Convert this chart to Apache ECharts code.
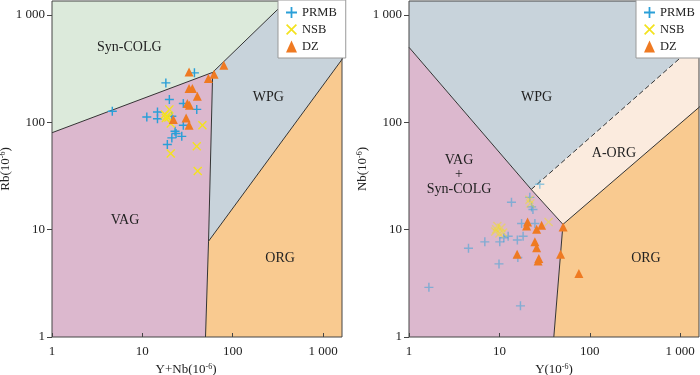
<!DOCTYPE html>
<html>
<head>
<meta charset="utf-8">
<script src="https://cdn.jsdelivr.net/npm/echarts@6/dist/echarts.min.js"></script>
<style>
  html, body { margin: 0; padding: 0; background: #fff; }
  #chart { width: 700px; height: 375px; }
</style>
</head>
<body>
<div id="chart"></div>
<script>
// left diagram: Rb vs Y+Nb
const prmbRb = [[4.65, 127], [18.2, 233], [37.7, 289], [19.9, 163], [28.4, 150], [40, 132], [11.2, 112],
  [14.7, 125], [14.7, 108], [21.2, 114], [28.4, 94], [23, 82.6], [23.6, 78.7], [27.3, 74], [21.2, 71.6], [18.9, 62.1]]
const nsbRb = [[18.6, 114], [17.8, 118], [19.4, 111], [18.2, 110], [19.9, 132], [20.6, 97.5], [46.2, 94],
  [40, 60], [20.6, 51.2], [41, 35.2]]
const dzRb = [[32.9, 295], [53.8, 256], [62.2, 281], [79.7, 341], [32.9, 207], [35.8, 207], [40.6, 175],
  [31.5, 150], [33.2, 144], [22, 106], [30.5, 110], [32.9, 94]]

// right diagram: Nb vs Y
const prmbNb = [[1.66, 2.9], [4.55, 6.7], [6.9, 7.7], [9.9, 4.8], [10.1, 7.7], [11.2, 8.4], [12.5, 8.7],
  [13.6, 18], [15.8, 8], [16, 5.5], [17.1, 1.95], [17.6, 11.4], [18.3, 8.7], [21.7, 20], [22.7, 16.3],
  [23.5, 15.4], [24.7, 11.4], [28, 26.5]]
const nsbNb = [[9, 9.6], [9.5, 10.8], [10, 9.2], [10.5, 10.4], [9.2, 10.1], [11, 9.4], [21.5, 19], [22, 17.5], [35, 11.8]]
const dzNb = [[20.5, 11.8], [20, 10.8], [25.8, 10.1], [29.3, 11], [50.7, 10.6], [24.7, 7.7], [25.8, 6.8],
  [15.7, 5.9], [47.5, 5.9], [27.3, 5.4], [26.8, 5.1], [75.7, 3.9]]

// field boundaries (data coords)
const rbSynColg = [[1, 80], [60, 292], [636, 2000], [1, 2000]]
const rbVag = [[1, 1], [50, 1], [54, 7.8], [60, 292], [1, 80]]
const rbWpg = [[60, 292], [636, 2000], [2000, 2000], [2000, 491], [54, 7.8]]
const rbOrg = [[50, 1], [2000, 1], [2000, 491], [54, 7.8]]
const rbLines = [[[1, 80], [60, 292], [636, 2000]], [[60, 292], [54, 7.8], [50, 1]], [[54, 7.8], [2000, 491]]]

const nbVag = [[1, 1], [40, 1], [50.5, 11.2], [22.5, 23.7], [1, 500]]
const nbWpg = [[1, 500], [22.5, 23.7], [2000, 665], [2000, 2000], [1, 2000]]
const nbAorg = [[22.5, 23.7], [50.5, 11.2], [2000, 161], [2000, 665]]
const nbOrg = [[40, 1], [2000, 1], [2000, 161], [50.5, 11.2]]
const nbLines = [[[1, 500], [22.5, 23.7], [50.5, 11.2], [40, 1]], [[50.5, 11.2], [2000, 161]]]
const nbDashed = [[22.5, 23.7], [2000, 665]]

const rbLabels = [[7.18, 504, 'Syn-COLG'], [248, 172, 'WPG'], [6.43, 12.2, 'VAG'], [335, 5.45, 'ORG']]
const nbLabels = [[25.8, 172, 'WPG'], [3.58, 44.3, 'VAG'], [3.58, 32.8, '+'], [3.58, 23.6, 'Syn-COLG'],
  [185, 51.9, 'A-ORG'], [418, 5.45, 'ORG']]

const FONT = 'Liberation Serif, Times New Roman, serif'
const plusPath = 'path://M4.2,0H5.8V4.2H10V5.8H5.8V10H4.2V5.8H0V4.2H4.2Z'
const xPath = 'path://M0,1.1L1.1,0L5,3.9L8.9,0L10,1.1L6.1,5L10,8.9L8.9,10L5,6.1L1.1,10L0,8.9L3.9,5Z'

function region(pts, color, gi) {
  return {
    type: 'custom', xAxisIndex: gi, yAxisIndex: gi, silent: true, clip: true, z: 1,
    data: pts, encode: { x: 0, y: 1 },
    renderItem(params, api) {
      if (params.dataIndex !== 0) return null
      return { type: 'polygon', shape: { points: pts.map(p => api.coord(p)) }, style: { fill: color } }
    }
  }
}

function boundary(pts, gi, dashed) {
  return {
    type: 'line', xAxisIndex: gi, yAxisIndex: gi, data: pts, symbol: 'none', silent: true, z: 2,
    lineStyle: { color: '#333', width: 1, type: dashed ? [5, 3] : 'solid' }
  }
}

function labels(list, gi) {
  return {
    type: 'custom', xAxisIndex: gi, yAxisIndex: gi, silent: true, z: 3,
    data: list.map(d => [d[0], d[1]]), encode: { x: 0, y: 1 },
    renderItem(params, api) {
      const p = api.coord([api.value(0), api.value(1)])
      return {
        type: 'text', x: p[0], y: p[1],
        style: { text: list[params.dataIndex][2], fill: '#222', fontSize: 14, fontFamily: FONT, align: 'center', verticalAlign: 'middle' }
      }
    }
  }
}

function points(name, data, gi, symbol, color, size, opacity) {
  return {
    name, type: 'scatter', xAxisIndex: gi, yAxisIndex: gi, data, symbol, symbolSize: size, z: 4,
    itemStyle: { color, opacity }
  }
}

const tickFmt = v => {
  const l = Math.log10(v)
  if (Math.abs(l - Math.round(l)) > 1e-6) return ''
  return v >= 1000 ? '1 000' : String(Math.round(v))
}

function xAxis(gi, max, name, pad) {
  return {
    type: 'log', logBase: 10, gridIndex: gi, min: 1, max, z: 6,
    name, nameLocation: 'middle', nameGap: 24,
    nameTextStyle: { fontFamily: FONT, fontSize: 13, color: '#222', padding: pad, rich: { s: { fontSize: 8, fontFamily: FONT, verticalAlign: 'top', color: '#222' } } },
    axisLine: { show: false },
    axisTick: { show: true, inside: true, length: 4, lineStyle: { color: '#444' } },
    axisLabel: { fontFamily: FONT, fontSize: 13, color: '#222', margin: 8, formatter: tickFmt, showMaxLabel: false },
    splitLine: { show: false }, minorTick: { show: false }
  }
}

function yAxis(gi, name) {
  return {
    type: 'log', logBase: 10, gridIndex: gi, min: 1, max: 1350, z: 6,
    name, nameLocation: 'middle', nameGap: 36,
    nameTextStyle: { fontFamily: FONT, fontSize: 13, color: '#222', rich: { s: { fontSize: 8, fontFamily: FONT, verticalAlign: 'top', color: '#222' } } },
    axisLine: { show: false },
    axisTick: { show: true, inside: false, length: 5, lineStyle: { color: '#444' } },
    axisLabel: { fontFamily: FONT, fontSize: 13, color: '#222', margin: 7, formatter: tickFmt, showMaxLabel: false },
    splitLine: { show: false }, minorTick: { show: false }
  }
}

function legend(left) {
  return {
    left, top: 0, orient: 'vertical', z: 20,
    backgroundColor: '#fff', borderColor: '#999', borderWidth: 1, borderRadius: 0,
    padding: [6, 9, 5, 8], itemGap: 4, itemWidth: 11, itemHeight: 12,
    textStyle: { fontFamily: FONT, fontSize: 12.5, color: '#222' },
    itemStyle: { opacity: 1 },
    data: [{ name: 'PRMB', icon: plusPath }, { name: 'NSB', icon: xPath }, { name: 'DZ', icon: 'triangle' }]
  }
}

const chart = echarts.init(document.getElementById('chart'))
chart.setOption({
  animation: false,
  backgroundColor: '#fff',
  grid: [
    { left: 52, right: 358, top: 1, bottom: 38, show: true, z: 5, borderColor: '#444', borderWidth: 1, backgroundColor: 'transparent', outerBoundsMode: 'none', containLabel: false },
    { left: 409, right: 1, top: 1, bottom: 38, show: true, z: 5, borderColor: '#444', borderWidth: 1, backgroundColor: 'transparent', outerBoundsMode: 'none', containLabel: false }
  ],
  xAxis: [
    xAxis(0, 1620, 'Y+Nb(10{s|-6})', [0, 22, 0, 0]),
    xAxis(1, 1615, 'Y(10{s|-6})', [0, 0, 0, 0])
  ],
  yAxis: [yAxis(0, 'Rb(10{s|-6})'), yAxis(1, 'Nb(10{s|-6})')],
  legend: [legend(278), legend(636)],
  series: [
    region(rbSynColg, '#dceadb', 0),
    region(rbVag, '#dcb8ce', 0),
    region(rbWpg, '#c8d3db', 0),
    region(rbOrg, '#f9ca90', 0),
    ...rbLines.map(l => boundary(l, 0, false)),
    labels(rbLabels, 0),
    points('PRMB', prmbRb, 0, plusPath, '#2a9fd8', 9, 1),
    points('NSB', nsbRb, 0, xPath, '#f3e21f', 9, 1),
    points('DZ', dzRb, 0, 'triangle', '#ef7a22', 9, 1),

    region(nbVag, '#dcb8ce', 1),
    region(nbWpg, '#c8d3db', 1),
    region(nbAorg, '#fbebde', 1),
    region(nbOrg, '#f9ca90', 1),
    ...nbLines.map(l => boundary(l, 1, false)),
    boundary(nbDashed, 1, true),
    labels(nbLabels, 1),
    points('PRMB', prmbNb, 1, plusPath, '#2a9fd8', 9, 0.5),
    points('NSB', nsbNb, 1, xPath, '#f3e21f', 9, 0.5),
    points('DZ', dzNb, 1, 'triangle', '#ef7a22', 9, 1)
  ]
})
</script>
</body>
</html>
